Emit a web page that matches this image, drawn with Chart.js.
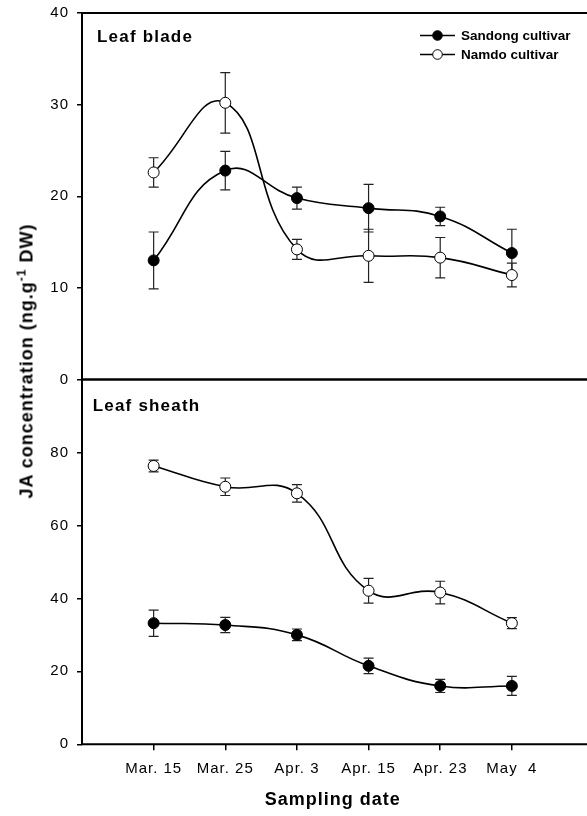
<!DOCTYPE html>
<html>
<head>
<meta charset="utf-8">
<script src="https://cdn.jsdelivr.net/npm/chart.js@4/dist/chart.umd.min.js"></script>
<style>
  body { margin: 0; width: 587px; height: 816px; overflow: hidden; background: #fff; position: relative; }
  canvas { position: absolute; left: 0; }
  #top { top: 0; }
  #bottom { top: 370px; }
  #ytitle {
    position: absolute; left: 27px; top: 361px;
    transform: translate(-50%, -50%) rotate(-90deg);
    white-space: nowrap; font: bold 18px "Liberation Sans", Arial, sans-serif;
    letter-spacing: 1px; color: #000;
  }
  #ytitle sup { font-size: 12px; line-height: 0; }
</style>
</head>
<body>
<canvas id="top" width="590" height="400"></canvas>
<canvas id="bottom" width="590" height="446"></canvas>
<div id="ytitle">JA concentration (ng.g<sup>-1</sup> DW)</div>
<script>
// sampling dates
const categories = ['Mar. 15', 'Mar. 25', 'Apr. 3', 'Apr. 15', 'Apr. 23', 'May  4'];

// leaf blade
const sandongBlade    = [13.0, 22.8, 19.8, 18.7, 17.8, 13.8];
const sandongBladeErr = [3.1, 2.1, 1.2, 2.6, 1.0, 2.6];
const namdoBlade      = [22.6, 30.2, 14.2, 13.5, 13.3, 11.4];
const namdoBladeErr   = [1.6, 3.3, 1.1, 2.9, 2.2, 1.3];

// leaf sheath
const sandongSheath    = [33.2, 32.7, 30.0, 21.5, 16.0, 16.0];
const sandongSheathErr = [3.6, 2.1, 1.6, 2.1, 1.8, 2.6];
const namdoSheath      = [76.3, 70.6, 68.8, 42.1, 41.6, 33.2];
const namdoSheathErr   = [1.6, 2.4, 2.4, 3.4, 3.1, 1.5];

const blade = [0, 10, 20, 30, 40];
const sheath = [0, 20, 40, 60, 80, 100];

const FONT = '"Liberation Sans", Arial, sans-serif';
Chart.defaults.font.family = FONT;
Chart.defaults.color = '#000';

function pts(vals) {
  return vals.map((v, i) => ({ x: i + 1, y: v }));
}

function series(label, vals, errs, fill) {
  return {
    label: label,
    data: pts(vals),
    errors: errs,
    borderColor: '#000',
    borderWidth: 1.6,
    pointRadius: 5.5,
    pointBackgroundColor: fill,
    pointBorderColor: '#000',
    pointBorderWidth: 1,
    tension: 0.45,
    fill: false
  };
}

// no automatic padding from the scales, layout.padding decides the plot box
function noPad(s) {
  s.paddingTop = 0; s.paddingBottom = 0; s.paddingLeft = 0; s.paddingRight = 0;
}

// vertical error bars, drawn under the markers
const errorBars = {
  id: 'errorBars',
  beforeDatasetsDraw(chart) {
    const ctx = chart.ctx, xs = chart.scales.x, ys = chart.scales.y;
    ctx.save();
    ctx.strokeStyle = '#222';
    ctx.lineWidth = 1.2;
    chart.data.datasets.forEach(ds => {
      ds.data.forEach((p, i) => {
        const e = ds.errors[i];
        const px = xs.getPixelForValue(p.x);
        const t = ys.getPixelForValue(p.y + e), b = ys.getPixelForValue(p.y - e);
        ctx.beginPath();
        ctx.moveTo(px, t); ctx.lineTo(px, b);
        ctx.moveTo(px - 5, t); ctx.lineTo(px + 5, t);
        ctx.moveTo(px - 5, b); ctx.lineTo(px + 5, b);
        ctx.stroke();
      });
    });
    ctx.restore();
  }
};

// frame lines, panel title and (top panel) legend
const panel = {
  id: 'panel',
  beforeDraw(chart) {
    chart.ctx.letterSpacing = '1px';
  },
  afterDraw(chart, args, opts) {
    const ctx = chart.ctx, a = chart.chartArea;
    ctx.save();
    ctx.strokeStyle = '#000';
    ctx.lineWidth = 2;
    ctx.beginPath();
    ctx.moveTo(a.left, a.top); ctx.lineTo(chart.width, a.top);
    ctx.moveTo(a.left, a.top - 1); ctx.lineTo(a.left, a.bottom + 1);
    ctx.moveTo(a.left, a.bottom); ctx.lineTo(chart.width, a.bottom);
    ctx.stroke();

    ctx.fillStyle = '#000';
    ctx.font = 'bold 17px ' + FONT;
    ctx.letterSpacing = '1.2px';
    ctx.textBaseline = 'alphabetic';
    ctx.fillText(opts.title, opts.titleX, opts.titleY);

    if (opts.legend) {
      ctx.letterSpacing = '0px';
      ctx.font = 'bold 13.5px ' + FONT;
      ctx.textBaseline = 'middle';
      chart.data.datasets.forEach((ds, i) => {
        const y = opts.legendY[i];
        ctx.lineWidth = 1.6;
        ctx.beginPath();
        ctx.moveTo(420, y); ctx.lineTo(455, y);
        ctx.stroke();
        ctx.beginPath();
        ctx.arc(437.5, y, 4.8, 0, Math.PI * 2);
        ctx.fillStyle = ds.pointBackgroundColor;
        ctx.fill();
        ctx.lineWidth = 1;
        ctx.stroke();
        ctx.fillStyle = '#000';
        ctx.fillText(ds.label, 461, y + 1);
      });
    }
    ctx.restore();
  }
};

function yScale(ticksArr, hideTop) {
  const max = ticksArr[ticksArr.length - 1];
  return {
    min: 0, max: max,
    afterBuildTicks: s => { s.ticks = ticksArr.filter(v => !(hideTop && v === max)).map(v => ({ value: v })); },
    ticks: { padding: 8, font: { size: 15 }, color: '#000' },
    grid: { drawOnChartArea: false, tickLength: 5, color: '#000', lineWidth: 1.5 },
    border: { display: false },
    afterFit: s => { s.width = 82; noPad(s); }
  };
}

new Chart(document.getElementById('top'), {
  type: 'line',
  data: {
    datasets: [
      series('Sandong cultivar', sandongBlade, sandongBladeErr, '#000'),
      series('Namdo cultivar', namdoBlade, namdoBladeErr, '#fff')
    ]
  },
  options: {
    responsive: false, animation: false, devicePixelRatio: 1,
    layout: { padding: { top: 13, bottom: 20.5, left: 0, right: 2 } },
    plugins: {
      legend: { display: false }, tooltip: { enabled: false },
      panel: { title: 'Leaf blade', titleX: 97, titleY: 41.7, legend: true, legendY: [35.5, 54.5] }
    },
    scales: {
      x: { type: 'linear', min: 0, max: 7, display: false, afterFit: noPad },
      y: yScale(blade, false)
    }
  },
  plugins: [errorBars, panel]
});

new Chart(document.getElementById('bottom'), {
  type: 'line',
  data: {
    datasets: [
      series('Sandong cultivar', sandongSheath, sandongSheathErr, '#000'),
      series('Namdo cultivar', namdoSheath, namdoSheathErr, '#fff')
    ]
  },
  options: {
    responsive: false, animation: false, devicePixelRatio: 1,
    layout: { padding: { top: 9.5, bottom: 0, left: 0, right: 2 } },
    plugins: {
      legend: { display: false }, tooltip: { enabled: false },
      panel: { title: 'Leaf sheath', titleX: 92.7, titleY: 40.7, legend: false }
    },
    scales: {
      x: {
        type: 'linear', min: 0, max: 7,
        afterBuildTicks: s => { s.ticks = categories.map((c, i) => ({ value: i + 1 })); },
        ticks: {
          autoSkip: false, maxRotation: 0, padding: 10, font: { size: 15 }, color: '#000',
          callback: v => categories[v - 1]
        },
        grid: { drawOnChartArea: false, tickLength: 6, color: '#000', lineWidth: 1.5 },
        border: { display: false },
        title: { display: true, text: 'Sampling date', font: { size: 18, weight: 'bold' }, color: '#000', padding: { top: 0, bottom: 5 } },
        afterFit: s => { s.height = 71.7; noPad(s); }
      },
      y: yScale(sheath, true)
    }
  },
  plugins: [errorBars, panel]
});
</script>
</body>
</html>
